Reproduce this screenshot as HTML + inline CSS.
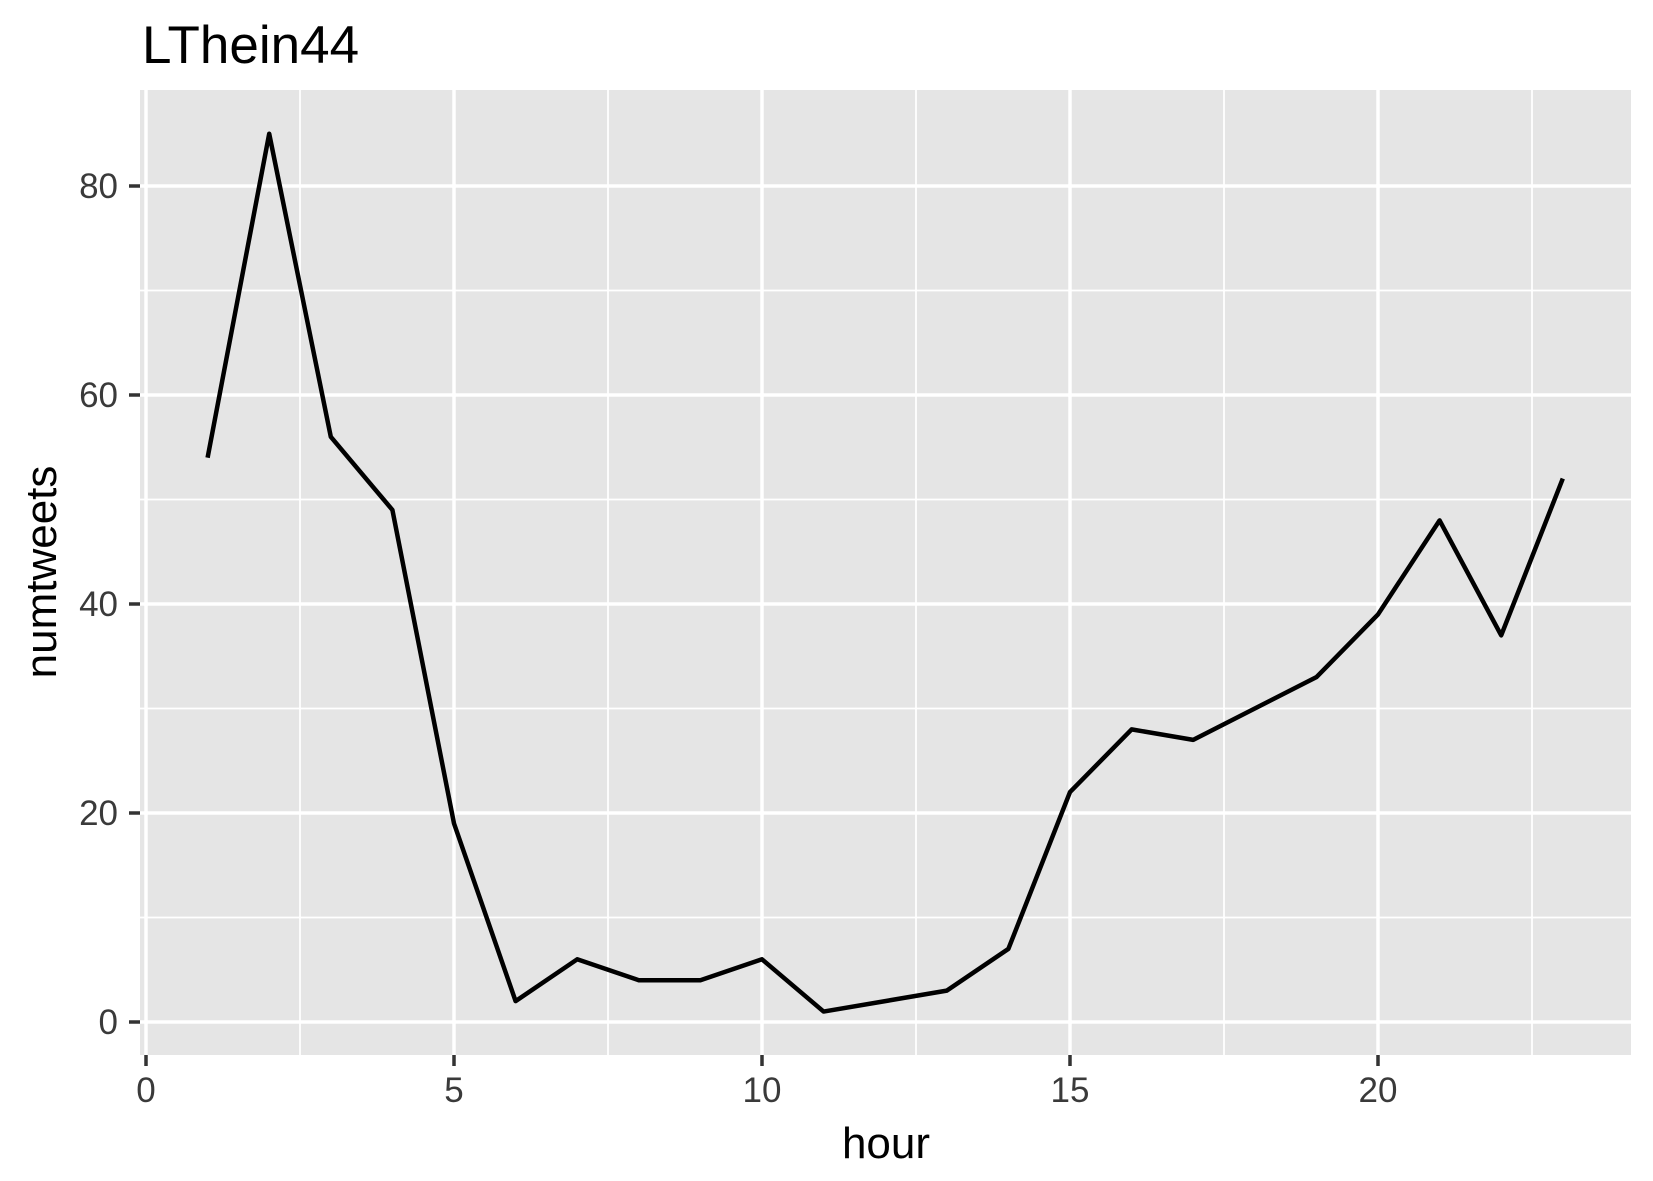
<!DOCTYPE html>
<html><head><meta charset="utf-8"><style>body{margin:0;background:#fff}svg{display:block}text{font-family:"Liberation Sans",sans-serif}</style></head>
<body>
<svg id="chart" width="1653" height="1181">
<text x="142" y="63" font-size="53" fill="#000">LThein44</text>
<rect x="140" y="90" width="1491" height="965" fill="#e5e5e5"/>
<g id="grid"></g>
<g id="axes"></g>
<path id="line" fill="none" stroke="#000" stroke-width="4.5" stroke-linejoin="round"/>
<text x="886" y="1158" font-size="44" text-anchor="middle" fill="#000">hour</text>
<text transform="translate(56,572) rotate(-90)" font-size="44" text-anchor="middle" fill="#000">numtweets</text>
</svg>
<script>
const hours = [1,2,3,4,5,6,7,8,9,10,11,13,14,15,16,17,19,20,21,22,23];
const numtweets = [54,85,56,49,19,2,6,4,4,6,1,3,7,22,28,27,33,39,48,37,52];
const xTicks = [0,5,10,15,20];
const yTicks = [0,20,40,60,80];
const ns = 'http://www.w3.org/2000/svg';
function sx(v){return 146 + v*61.6;}
function sy(v){return 1022 - v*10.45;}
const grid = document.getElementById('grid');
const axes = document.getElementById('axes');
function mk(tag, attrs, parent){const e=document.createElementNS(ns,tag);for(const k in attrs)e.setAttribute(k,attrs[k]);parent.appendChild(e);return e;}
for(let i=0;i<xTicks.length;i++){
  const v=xTicks[i];
  const mid=v+2.5;
  if(sx(mid)<1631){const m=mk('line',{x1:sx(mid),x2:sx(mid),y1:90,y2:1055,stroke:'#fff','stroke-width':1.8},grid);
  
  }
  const g=mk('line',{x1:sx(v),x2:sx(v),y1:90,y2:1055,stroke:'#fff','stroke-width':3.5},grid);
  
  
  const t=mk('line',{x1:sx(v),x2:sx(v),y1:1055,y2:1066,stroke:'#333','stroke-width':3.5},axes);
  
  
  const l=mk('text',{x:sx(v),y:1102,'font-size':35,'text-anchor':'middle',fill:'#3a3a3a'},axes);
  l.textContent=v;
  
  
}
for(let i=0;i<yTicks.length;i++){
  const v=yTicks[i];
  const mid=v+10;
  if(sy(mid)>90){const m=mk('line',{x1:140,x2:1631,y1:sy(mid),y2:sy(mid),stroke:'#fff','stroke-width':1.8},grid);
  
  }
  const g=mk('line',{x1:140,x2:1631,y1:sy(v),y2:sy(v),stroke:'#fff','stroke-width':3.5},grid);
  
  
  const t=mk('line',{x1:129,x2:140,y1:sy(v),y2:sy(v),stroke:'#333','stroke-width':3.5},axes);
  
  
  const l=mk('text',{x:118,y:sy(v)+12,'font-size':35,'text-anchor':'end',fill:'#3a3a3a'},axes);
  l.textContent=v;
  
  
}
document.getElementById('line').setAttribute('d', hours.map((h,i)=>(i?'L':'M')+sx(h)+','+sy(numtweets[i])).join(' '));
</script>
</body></html>
